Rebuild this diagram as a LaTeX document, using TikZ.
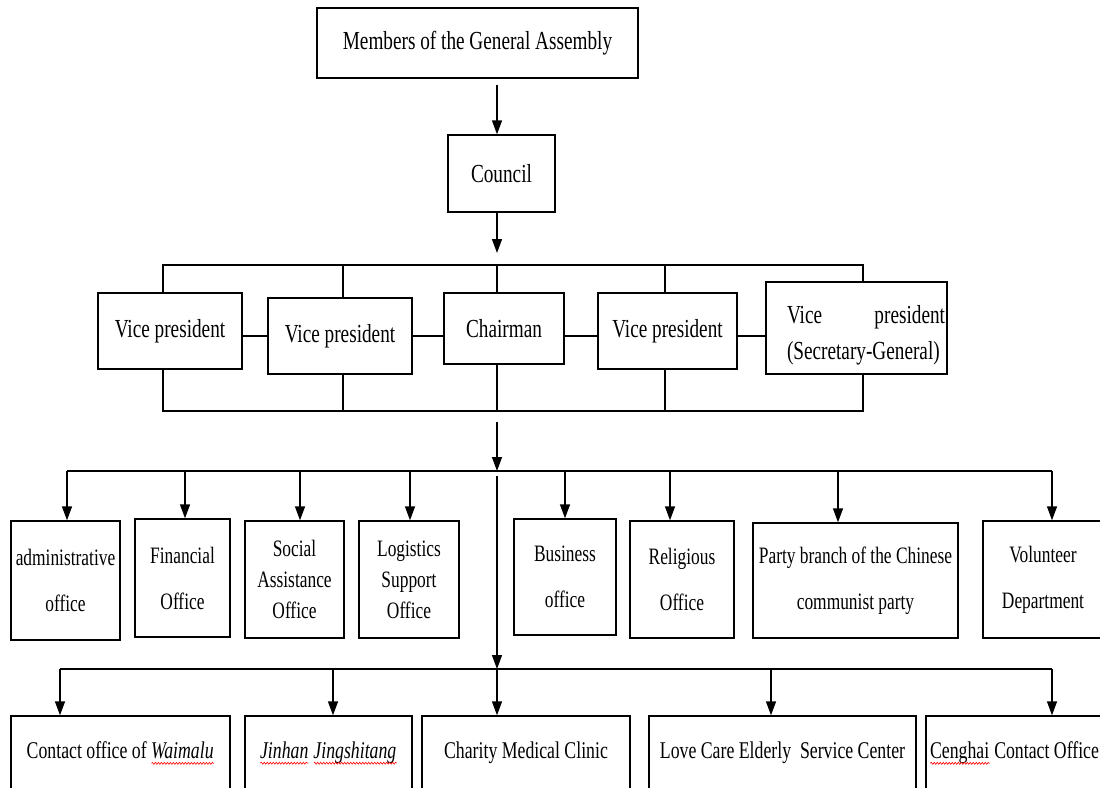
\documentclass[tikz,border=0pt]{standalone}
\usepackage{fontspec}
\setmainfont{Liberation Serif}[FakeStretch=0.74]
\usetikzlibrary{arrows.meta,decorations.pathmorphing}
\newsavebox\spellbox
\newlength\spellwd
\newcommand\spellmark[1]{\sbox\spellbox{#1}\setlength\spellwd{\wd\spellbox}\rlap{\usebox\spellbox}\raisebox{-5pt}{\tikz[baseline=0pt,x=1pt,y=1pt]\draw[red, line width=0.6pt, decorate, decoration={snake, amplitude=1pt, segment length=3pt}] (0pt,0pt) -- (\spellwd,0pt);}}
% \orgbox[style]{x1}{y1}{x2}{y2}{name}{text}
\newcommand\orgbox[7][]{\node[box,#1,minimum width={#4-#2}, minimum height={#5-#3}] (#6) at ({(#2+#4)/2},{(#3+#5)/2}) {#7};}
\tikzset{
  box/.style={draw, line width=1.4pt, inner sep=0pt, align=center},
  big/.style={font=\fontsize{26}{31}\selectfont},
  mid/.style={font=\fontsize{23.5}{46}\selectfont},
  midthree/.style={font=\fontsize{23.5}{31}\selectfont},
  low/.style={font=\fontsize{24}{29}\selectfont},
  ln/.style={line width=1.4pt},
  arr/.style={line width=1.4pt, -{Triangle[length=14pt,width=10pt]}}
}
\begin{document}
\begin{tikzpicture}[x=1pt,y=-1pt]
\useasboundingbox (0,0) rectangle (1100,787);
\fill[white] (0,0) rectangle (1100,787);
% top
\orgbox[big]{317}{8}{638}{78}{members}{Members of the General Assembly}
\orgbox[big]{448}{135}{555}{212}{council}{Council}
% leadership row
\orgbox[big]{98}{293}{242}{369}{vp1}{Vice president}
\orgbox[big]{268}{298}{412}{374}{vp2}{Vice president}
\orgbox[big]{444}{293}{564}{364}{chair}{Chairman}
\orgbox[big]{598}{293}{737}{369}{vp4}{Vice president}
\orgbox[font=\fontsize{26}{36}\selectfont]{766}{282}{947}{374}{vp5}{\hspace*{19pt}\raisebox{-7pt}[\dimexpr\height+7pt][\dimexpr\depth+7pt]{\parbox[c]{158pt}{Vice\hfill president\\(Secretary-General)}}}
% offices row
\orgbox[mid]{11}{521}{120}{640}{adm}{administrative\\office}
\orgbox[mid]{135}{519}{230}{637}{fin}{Financial\\Office}
\orgbox[midthree]{245}{521}{344}{638}{soc}{Social\\Assistance\\Office}
\orgbox[midthree]{359}{521}{459}{638}{logi}{Logistics\\Support\\Office}
\orgbox[mid]{514}{519}{616}{635}{busi}{Business\\office}
\orgbox[mid]{630}{521}{734}{638}{reli}{Religious\\Office}
\orgbox[mid]{753}{523}{958}{638}{party}{Party branch of the Chinese\\communist party}
\orgbox[mid]{983}{521}{1103}{638}{vol}{Volunteer\\Department}
% bottom row
\orgbox[low]{11}{716}{230}{790}{c1}{Contact office of \spellmark{\textit{Waimalu}}}
\orgbox[low]{245}{716}{412}{790}{c2}{\spellmark{\textit{Jinhan}} \spellmark{\textit{Jingshitang}}}
\orgbox[low]{422}{716}{630}{790}{c3}{Charity Medical Clinic}
\orgbox[low]{649}{716}{916}{790}{c4}{Love Care Elderly\ \ Service Center}
\orgbox[low]{926}{716}{1103}{790}{c5}{\spellmark{Cenghai} Contact Office}
% helper coordinates
\coordinate (xa) at (163,0);
\coordinate (xb) at (343,0);
\coordinate (xc) at (497,0);
\coordinate (xd) at (665,0);
\coordinate (xe) at (863,0);
\coordinate (tb) at (0,265);
\coordinate (bb) at (0,411);
\coordinate (hm) at (0,336);
\coordinate (t1) at (0,253);
\coordinate (g1) at (0,422);
\coordinate (b2) at (0,471);
\coordinate (g2) at (0,476);
\coordinate (b3) at (0,669);
\coordinate (b2l) at (67,471);
\coordinate (b2r) at (1052,471);
\coordinate (b3l) at (60,669);
\coordinate (b3r) at (1052,669);
% spine
\draw[arr, shorten <=6pt] (members.south -| xc) -- (council.north -| xc);
\draw[arr] (council.south -| xc) -- (xc |- t1);
% top and bottom bus of leadership row
\draw[ln] (vp1.north -| xa) -- (xa |- tb) -- (xe |- tb) -- (vp5.north -| xe);
\draw[ln] (vp2.north -| xb) -- (xb |- tb);
\draw[ln] (chair.north -| xc) -- (xc |- tb);
\draw[ln] (vp4.north -| xd) -- (xd |- tb);
\draw[ln] (vp1.south -| xa) -- (xa |- bb) -- (xe |- bb) -- (vp5.south -| xe);
\draw[ln] (vp2.south -| xb) -- (xb |- bb);
\draw[ln] (chair.south -| xc) -- (xc |- bb);
\draw[ln] (vp4.south -| xd) -- (xd |- bb);
% horizontal links
\draw[ln] (vp1.east |- hm) -- (vp2.west |- hm);
\draw[ln] (vp2.east |- hm) -- (chair.west |- hm);
\draw[ln] (chair.east |- hm) -- (vp4.west |- hm);
\draw[ln] (vp4.east |- hm) -- (vp5.west |- hm);
% to offices
\draw[arr] (xc |- g1) -- (xc |- b2);
\draw[ln] (b2l) -- (b2r);
\foreach \n/\x in {adm/67, fin/185, soc/300, logi/410, busi/565, reli/670, party/838, vol/1052}{
  \coordinate (tmp) at (\x,0);
  \draw[arr] (tmp |- b2) -- (\n.north -| tmp);
}
% to centers
\draw[arr] (xc |- g2) -- (xc |- b3);
\draw[ln] (b3l) -- (b3r);
\foreach \n/\x in {c1/60, c2/333, c3/497, c4/771, c5/1052}{
  \coordinate (tmp) at (\x,0);
  \draw[arr] (tmp |- b3) -- (\n.north -| tmp);
}
\end{tikzpicture}
\end{document}
